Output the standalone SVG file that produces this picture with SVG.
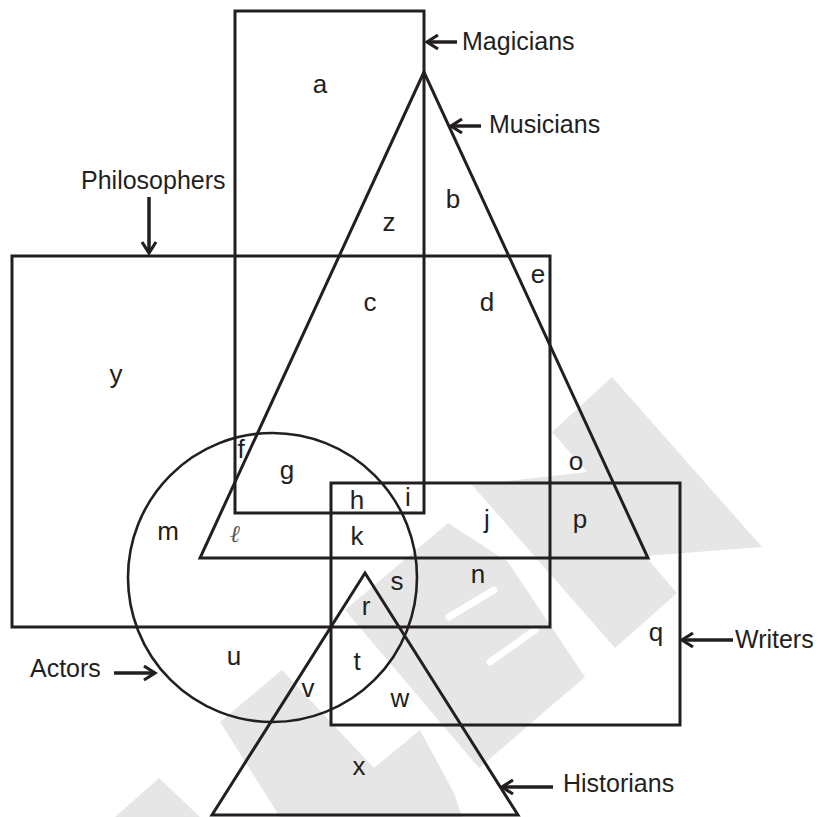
<svg xmlns="http://www.w3.org/2000/svg" width="818" height="817" viewBox="0 0 818 817">
<style>
.shape{fill:none;stroke:#231f20;stroke-width:3}
.circ{fill:none;stroke:#231f20;stroke-width:2.6}
.conn{fill:none;stroke:#231f20;stroke-width:3.5}
.lbl{font-family:"Liberation Sans",Arial,sans-serif;font-size:25px;fill:#231f20}
.reg{font-family:"Liberation Sans",Arial,sans-serif;font-size:26px;fill:#231f20;text-anchor:middle}
.wm{fill:#e6e6e6;stroke:none}
.wml{stroke:#ffffff;stroke-width:7;stroke-linecap:round}
</style>
<defs>
<marker id="ah" markerUnits="userSpaceOnUse" orient="auto" overflow="visible" refX="0" refY="0" markerWidth="1" markerHeight="1">
<path d="M-11,-7 L0,0 L-11,7" fill="none" stroke="#231f20" stroke-width="3.2" stroke-linejoin="miter"/>
</marker>
</defs>
<rect width="818" height="817" fill="#ffffff"/>
<g id="watermark">
<polygon class="wm" points="612,377 762,547 645,556 677,593 615,648 472,485 587,472 552,432"/>
<polygon class="wm" points="448,523 508,562 585,677 479,768 345,610"/>
<polygon class="wm" points="282,670 374,768 420,730 454,793 462,817 280,817 220,722"/>
<polygon class="wm" points="159,778 115,817 200,817"/>
<line class="wml" x1="449" y1="617" x2="494" y2="590"/>
<line class="wml" x1="490" y1="662" x2="535" y2="630"/>
</g>
<g id="magicians">
<rect class="shape" x="235" y="11" width="189" height="502"/>
<text class="lbl" x="462" y="50">Magicians</text>
</g>
<g id="musicians">
<polygon class="shape" points="424,72 200,558 648,558"/>
<text class="lbl" x="489" y="133">Musicians</text>
</g>
<g id="philosophers">
<rect class="shape" x="12" y="256" width="538" height="371"/>
<text class="lbl" x="81" y="189">Philosophers</text>
</g>
<g id="writers">
<rect class="shape" x="331" y="483" width="349" height="242"/>
<text class="lbl" x="735" y="648">Writers</text>
</g>
<g id="actors">
<circle class="circ" cx="272.5" cy="577.5" r="144.5"/>
<text class="lbl" x="30" y="677">Actors</text>
</g>
<g id="historians">
<polygon class="shape" points="365,573 212,815 518,815"/>
<text class="lbl" x="563" y="792">Historians</text>
</g>
<g id="connectors">
<line class="conn" x1="457" y1="42" x2="427" y2="42" marker-end="url(#ah)"/>
<line class="conn" x1="481" y1="126" x2="451" y2="126" marker-end="url(#ah)"/>
<line class="conn" x1="149" y1="197" x2="149" y2="253" marker-end="url(#ah)"/>
<line class="conn" x1="114" y1="673" x2="155" y2="673" marker-end="url(#ah)"/>
<line class="conn" x1="733" y1="640" x2="682" y2="640" marker-end="url(#ah)"/>
<line class="conn" x1="553" y1="787" x2="502" y2="787" marker-end="url(#ah)"/>
</g>
<g id="regions">
<text class="reg" x="320" y="93">a</text>
<text class="reg" x="453" y="208">b</text>
<text class="reg" x="389" y="231">z</text>
<text class="reg" x="370" y="311">c</text>
<text class="reg" x="487" y="311">d</text>
<text class="reg" x="538" y="283">e</text>
<text class="reg" x="116" y="383">y</text>
<text class="reg" x="241" y="458">f</text>
<text class="reg" x="287" y="479">g</text>
<text class="reg" x="357" y="509">h</text>
<text class="reg" x="408" y="506">i</text>
<text class="reg" x="487" y="528">j</text>
<text class="reg" x="357" y="545">k</text>
<text x="235" y="542" font-family="DejaVu Serif,serif" font-style="italic" font-size="24" fill="#555" text-anchor="middle">ℓ</text>
<text class="reg" x="168" y="540">m</text>
<text class="reg" x="576" y="470">o</text>
<text class="reg" x="580" y="528">p</text>
<text class="reg" x="478" y="583">n</text>
<text class="reg" x="397" y="590">s</text>
<text class="reg" x="366" y="615">r</text>
<text class="reg" x="656" y="641">q</text>
<text class="reg" x="234" y="665">u</text>
<text class="reg" x="357" y="670">t</text>
<text class="reg" x="308" y="697">v</text>
<text class="reg" x="400" y="707">w</text>
<text class="reg" x="359" y="775">x</text>
</g>
</svg>
